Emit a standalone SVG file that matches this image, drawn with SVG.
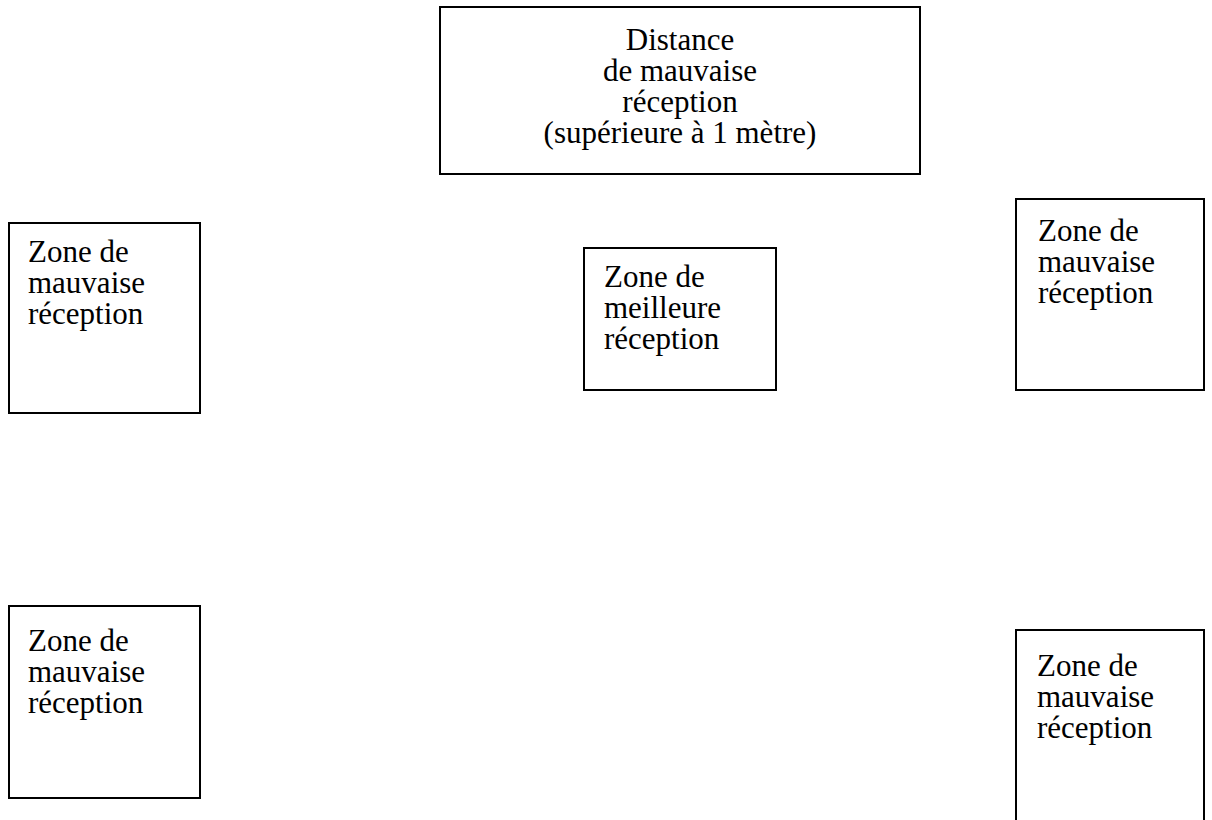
<svg xmlns="http://www.w3.org/2000/svg" width="1212" height="820" viewBox="0 0 1212 820">
<style>
.box{fill:#fff;stroke:#000;stroke-width:2}
text{font-family:"Liberation Serif","Times New Roman",serif;font-size:31px;fill:#000}
.c{text-anchor:middle}
</style>
<rect width="1212" height="820" fill="#fff"/>
<g id="connectors"></g>
<g id="top">
<rect class="box" x="440" y="7" width="480" height="167"/>
<text class="c" x="680" y="50">Distance</text>
<text class="c" x="680" y="81">de mauvaise</text>
<text class="c" x="680" y="112">réception</text>
<text class="c" x="680" y="143">(supérieure à 1 mètre)</text>
</g>
<g id="left-top">
<rect class="box" x="9" y="223" width="191" height="190"/>
<text x="28" y="262">Zone de</text>
<text x="28" y="293">mauvaise</text>
<text x="28" y="324">réception</text>
</g>
<g id="center">
<rect class="box" x="584" y="248" width="192" height="142"/>
<text x="604" y="287">Zone de</text>
<text x="604" y="318">meilleure</text>
<text x="604" y="349">réception</text>
</g>
<g id="right-top">
<rect class="box" x="1016" y="199" width="188" height="191"/>
<text x="1038" y="241">Zone de</text>
<text x="1038" y="272">mauvaise</text>
<text x="1038" y="303">réception</text>
</g>
<g id="left-bottom">
<rect class="box" x="9" y="606" width="191" height="192"/>
<text x="28" y="651">Zone de</text>
<text x="28" y="682">mauvaise</text>
<text x="28" y="713">réception</text>
</g>
<g id="right-bottom">
<rect class="box" x="1016" y="630" width="188" height="200"/>
<text x="1037" y="676">Zone de</text>
<text x="1037" y="707">mauvaise</text>
<text x="1037" y="738">réception</text>
</g>
</svg>
